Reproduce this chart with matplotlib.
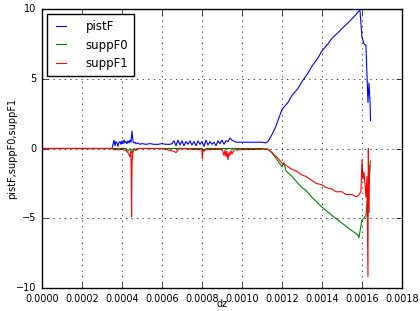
import matplotlib
matplotlib.use('Agg')
from matplotlib import pyplot as plt

# pistF
dz_p = [0.0, 0.00035, 0.000355, 0.00036, 0.000365, 0.00037, 0.000375, 0.00038, 0.000385,
        0.00039, 0.000395, 0.0004, 0.000405, 0.00041, 0.000415, 0.00042, 0.000425, 0.00043,
        0.000435, 0.00044, 0.000445, 0.00045, 0.000455, 0.00046, 0.000465, 0.00047, 0.00048,
        0.00049, 0.0005, 0.00052, 0.00054, 0.00056, 0.00058, 0.0006, 0.00062, 0.00064,
        0.00065, 0.00066, 0.00067, 0.00068, 0.00069, 0.0007, 0.00071, 0.00072, 0.00073,
        0.00074, 0.00075, 0.00076, 0.00077, 0.00078, 0.00079, 0.0008, 0.00081, 0.00082,
        0.00083, 0.00084, 0.00085, 0.00086, 0.00087, 0.00088, 0.00089, 0.0009, 0.00091,
        0.00092, 0.00093, 0.00094, 0.00095, 0.00097, 0.001, 0.00105, 0.0011, 0.00112,
        0.00113, 0.00115, 0.00117, 0.0012, 0.00123, 0.00125, 0.00128, 0.0013, 0.00133,
        0.00135, 0.00138, 0.0014, 0.00143, 0.00145, 0.00148, 0.0015, 0.00153, 0.00155,
        0.00157, 0.00158, 0.00159, 0.0016, 0.00161, 0.00162, 0.00163, 0.001635, 0.00164,
        0.001643]
pistF = [0.0, 0.0, 0.3, 0.6, 0.2, 0.5, 0.4, 0.15, 0.45, 0.5, 0.3, 0.55,
         0.35, 0.6, 0.4, 0.5, 0.35, 0.55, 0.4, 0.6, 0.45, 1.25, 0.5, 0.4,
         0.45, 0.35, 0.4, 0.3, 0.35, 0.3, 0.35, 0.3, 0.3, 0.35, 0.3, 0.3,
         0.35, 0.55, 0.2, 0.6, 0.25, 0.55, 0.2, 0.5, 0.3, 0.55, 0.25, 0.5,
         0.2, 0.55, 0.3, 0.5, 0.15, 0.6, 0.25, 0.5, 0.3, 0.45, 0.2, 0.55,
         0.35, 0.6, 0.3, 0.55, 0.5, 0.75, 0.6, 0.45, 0.45, 0.45, 0.45, 0.4,
         0.5, 1.0, 1.6, 2.8, 3.3, 3.8, 4.3, 4.8, 5.4, 5.9, 6.5, 7.0,
         7.5, 7.9, 8.3, 8.6, 9.0, 9.3, 9.6, 9.8, 9.9, 8.0, 7.5, 7.4,
         3.3, 4.7, 3.5, 2.0]

# suppF0
dz_0 = [0.0, 0.00042, 0.00043, 0.00044, 0.00045, 0.00046, 0.00047, 0.00048, 0.0008,
        0.00081, 0.00082, 0.0011, 0.00113, 0.00115, 0.00118, 0.0012, 0.00121, 0.00122,
        0.00125, 0.00128, 0.0013, 0.00132, 0.00135, 0.0014, 0.00145, 0.0015, 0.00155,
        0.00158, 0.001585, 0.0016, 0.00161, 0.00162, 0.00163, 0.001635, 0.00164, 0.001643]
suppF0 = [0.0, 0.0, -0.2, 0.0, -0.3, 0.0, -0.15, 0.0, 0.0,
          -0.2, 0.0, 0.0, -0.05, -0.3, -0.9, -1.3, -1.0, -1.6,
          -2.0, -2.5, -2.8, -3.0, -3.5, -4.2, -4.8, -5.35, -5.9,
          -6.2, -6.4, -5.1, -5.0, -4.8, -3.2, -2.5, -1.2, -0.9]

# suppF1
dz_1 = [0.0, 0.00035, 0.00036, 0.00037, 0.00038, 0.0004, 0.00042, 0.00043, 0.00044,
        0.000445, 0.000448, 0.00045, 0.000455, 0.00046, 0.00048, 0.0006, 0.00066,
        0.00067, 0.00068, 0.00069, 0.0008, 0.000802, 0.000805, 0.0009, 0.00091,
        0.000915, 0.00092, 0.000925, 0.00093, 0.000935, 0.00094, 0.000945, 0.00095,
        0.00096, 0.0011, 0.00113, 0.00115, 0.00118, 0.0012, 0.00122, 0.00125, 0.00127,
        0.0013, 0.00132, 0.00135, 0.00137, 0.0014, 0.00142, 0.00145, 0.00147, 0.0015,
        0.00152, 0.00155, 0.00157, 0.00158, 0.001595, 0.0016, 0.001605, 0.00161,
        0.001615, 0.00162, 0.001625, 0.00163, 0.001632, 0.001634, 0.001637, 0.00164]
suppF1 = [0.0, 0.0, -0.1, -0.05, -0.1, -0.05, -0.15, -0.3, -0.6,
          -0.2, -4.9, -1.0, -0.2, -0.1, 0.0, 0.0, -0.2,
          -0.3, -0.1, 0.0, -0.1, -0.7, -0.1, -0.05, -0.5,
          -0.1, -0.6, -0.2, -0.8, -0.3, -0.5, -0.15, -0.4,
          -0.1, -0.05, -0.05, -0.3, -0.7, -1.05, -1.2, -1.5, -1.6,
          -1.9, -2.0, -2.3, -2.5, -2.6, -2.8, -2.9, -3.1, -3.1,
          -3.3, -3.3, -3.45, -3.4, -3.1, -0.8, -2.2, -1.7,
          -2.5, -3.5, -2.0, -9.2, 0.0, -4.6, -2.0, -1.2]

plt.style.use('classic')
plt.rcParams['font.size'] = 7
plt.rcParams['figure.facecolor'] = 'white'

fig = plt.figure(figsize=(4.2, 3.11), dpi=100)
ax = fig.add_axes([0.1, 0.074, 0.857, 0.897])
ax.plot(dz_p, pistF, 'b-', label='pistF', linewidth=0.8)
ax.plot(dz_0, suppF0, 'g-', label='suppF0', linewidth=0.8)
ax.plot(dz_1, suppF1, 'r-', label='suppF1', linewidth=0.8)
ax.set_xlim(0, 0.0018)
ax.set_ylim(-10, 10)
ax.set_xticks([0.0, 0.0002, 0.0004, 0.0006, 0.0008, 0.001, 0.0012, 0.0014, 0.0016, 0.0018])
ax.set_yticks([-10, -5, 0, 5, 10])
ax.set_xticklabels(['%.4f' % v for v in ax.get_xticks()])
ax.set_xlabel('dz')
ax.xaxis.set_label_coords(0.5, -0.057)
ax.xaxis.label.set_va('center')
ax.set_ylabel('pistF,suppF0,suppF1')
ax.yaxis.set_label_coords(-0.083, 0.5)
ax.yaxis.label.set_va('center')
ax.grid(True)
ax.legend(loc='upper left', fontsize=8.5, handlelength=1.4, handletextpad=1.4,
          borderaxespad=0.4, borderpad=0.5)
plt.savefig('out.png', dpi=100)
plt.close()
